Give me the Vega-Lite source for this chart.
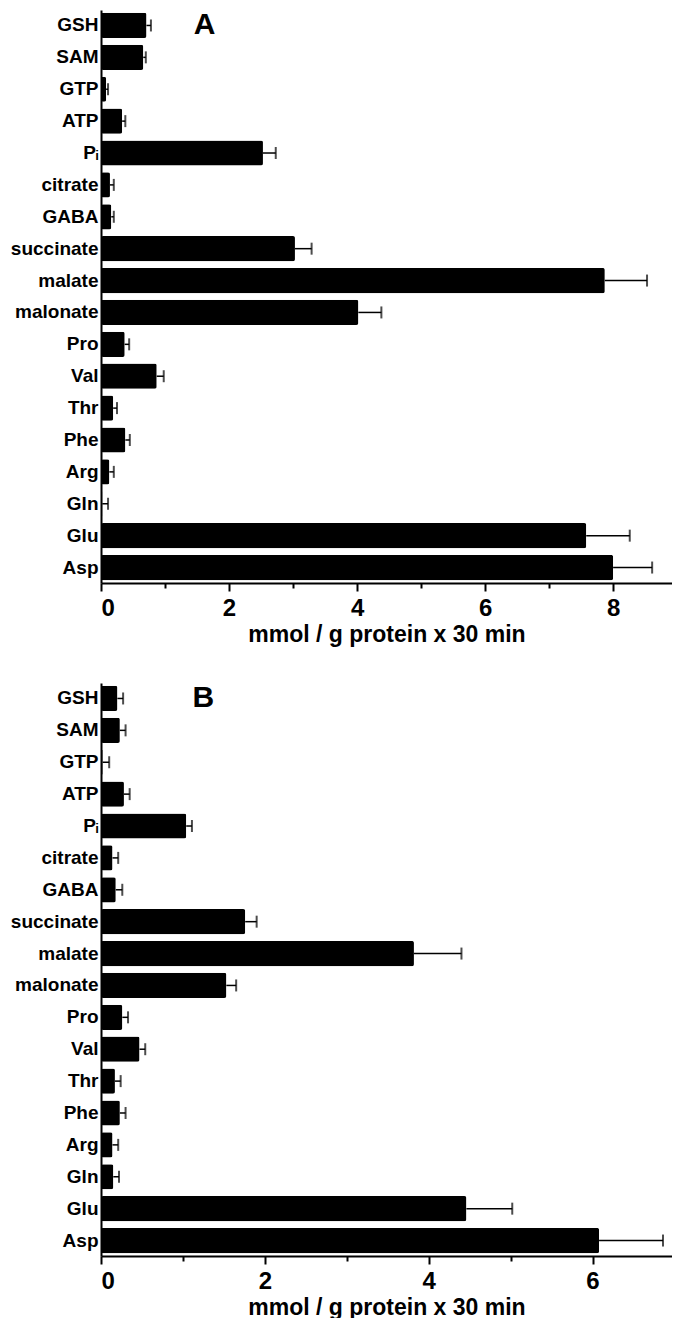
{
  "$schema": "https://vega.github.io/schema/vega-lite/v6.json",
  "background": "white",
  "padding": {"left": 10, "top": 10, "right": 0, "bottom": 0},
  "spacing": 37,
  "config": {
    "view": {"stroke": null},
    "font": "Liberation Sans",
    "axis": {"domainColor": "black", "tickColor": "black", "labelColor": "black", "titleColor": "black", "grid": false}
  },
  "data": {"values": [
    {"panel": "A", "name": "GSH", "value": 0.71, "upper": 0.78},
    {"panel": "A", "name": "SAM", "value": 0.66, "upper": 0.70},
    {"panel": "A", "name": "GTP", "value": 0.08, "upper": 0.11},
    {"panel": "A", "name": "ATP", "value": 0.33, "upper": 0.38},
    {"panel": "A", "name": "Pᵢ", "value": 2.53, "upper": 2.73},
    {"panel": "A", "name": "citrate", "value": 0.14, "upper": 0.20},
    {"panel": "A", "name": "GABA", "value": 0.16, "upper": 0.20},
    {"panel": "A", "name": "succinate", "value": 3.03, "upper": 3.29},
    {"panel": "A", "name": "malate", "value": 7.87, "upper": 8.53},
    {"panel": "A", "name": "malonate", "value": 4.02, "upper": 4.38},
    {"panel": "A", "name": "Pro", "value": 0.37, "upper": 0.44},
    {"panel": "A", "name": "Val", "value": 0.87, "upper": 0.98},
    {"panel": "A", "name": "Thr", "value": 0.19, "upper": 0.25},
    {"panel": "A", "name": "Phe", "value": 0.38, "upper": 0.45},
    {"panel": "A", "name": "Arg", "value": 0.13, "upper": 0.20},
    {"panel": "A", "name": "Gln", "value": 0.02, "upper": 0.11},
    {"panel": "A", "name": "Glu", "value": 7.58, "upper": 8.26},
    {"panel": "A", "name": "Asp", "value": 8.0, "upper": 8.61},
    {"panel": "B", "name": "GSH", "value": 0.20, "upper": 0.27},
    {"panel": "B", "name": "SAM", "value": 0.23, "upper": 0.30},
    {"panel": "B", "name": "GTP", "value": 0.02, "upper": 0.10},
    {"panel": "B", "name": "ATP", "value": 0.28, "upper": 0.35},
    {"panel": "B", "name": "Pᵢ", "value": 1.04, "upper": 1.11},
    {"panel": "B", "name": "citrate", "value": 0.14, "upper": 0.21},
    {"panel": "B", "name": "GABA", "value": 0.18, "upper": 0.26},
    {"panel": "B", "name": "succinate", "value": 1.76, "upper": 1.90},
    {"panel": "B", "name": "malate", "value": 3.82, "upper": 4.40},
    {"panel": "B", "name": "malonate", "value": 1.53, "upper": 1.65},
    {"panel": "B", "name": "Pro", "value": 0.26, "upper": 0.33},
    {"panel": "B", "name": "Val", "value": 0.47, "upper": 0.54},
    {"panel": "B", "name": "Thr", "value": 0.17, "upper": 0.24},
    {"panel": "B", "name": "Phe", "value": 0.23, "upper": 0.30},
    {"panel": "B", "name": "Arg", "value": 0.14, "upper": 0.21},
    {"panel": "B", "name": "Gln", "value": 0.15, "upper": 0.22},
    {"panel": "B", "name": "Glu", "value": 4.46, "upper": 5.02},
    {"panel": "B", "name": "Asp", "value": 6.08, "upper": 6.86}
  ]},
  "vconcat": [
    {
      "width": 571,
      "height": 573,
      "transform": [{"filter": "datum.panel === 'A'"}],
      "encoding": {
        "y": {
          "field": "name", "type": "nominal", "sort": null,
          "scale": {"paddingInner": 0.21, "paddingOuter": 0.09},
          "axis": {"title": null, "ticks": false, "domainWidth": 2, "labelFontSize": 19, "labelFontWeight": "bold", "labelPadding": 3}
        }
      },
      "layer": [
        {
          "mark": {"type": "bar", "color": "black", "cornerRadius": 2},
          "encoding": {
            "x": {
              "field": "value", "type": "quantitative",
              "scale": {"domain": [0, 8.92], "nice": false, "zero": true},
              "axis": {
                "title": "mmol / g protein x 30 min",
                "values": [0, 1, 2, 3, 4, 5, 6, 7, 8],
                "format": "d",
                "labelExpr": "datum.value % 2 ? '' : datum.label",
                "tickSize": {"condition": {"test": "datum.value % 2 === 1", "value": 5}, "value": 8},
                "tickWidth": 2, "domainWidth": 2,
                "labelFontSize": 24, "labelFontWeight": "bold", "labelPadding": 5,
                "titleFontSize": 23, "titleFontWeight": "bold", "titlePadding": 3
              }
            }
          }
        },
        {
          "mark": {"type": "rule", "color": "black", "strokeWidth": 1.5},
          "encoding": {"x": {"field": "value", "type": "quantitative"}, "x2": {"field": "upper"}}
        },
        {
          "mark": {"type": "tick", "color": "black", "thickness": 2, "size": 12},
          "encoding": {"x": {"field": "upper", "type": "quantitative"}}
        },
        {
          "data": {"values": [{"label": "A"}]},
          "mark": {"type": "text", "fontSize": 30, "fontWeight": "bold", "color": "black", "align": "center", "baseline": "middle"},
          "encoding": {"x": {"datum": 1.62}, "y": {"datum": "GSH"}, "text": {"field": "label"}}
        }
      ]
    },
    {
      "width": 571,
      "height": 573,
      "transform": [{"filter": "datum.panel === 'B'"}],
      "encoding": {
        "y": {
          "field": "name", "type": "nominal", "sort": null,
          "scale": {"paddingInner": 0.21, "paddingOuter": 0.09},
          "axis": {"title": null, "ticks": false, "domainWidth": 2, "labelFontSize": 19, "labelFontWeight": "bold", "labelPadding": 3}
        }
      },
      "layer": [
        {
          "mark": {"type": "bar", "color": "black", "cornerRadius": 2},
          "encoding": {
            "x": {
              "field": "value", "type": "quantitative",
              "scale": {"domain": [0, 6.97], "nice": false, "zero": true},
              "axis": {
                "title": "mmol / g protein x 30 min",
                "values": [0, 1, 2, 3, 4, 5, 6],
                "format": "d",
                "labelExpr": "datum.value % 2 ? '' : datum.label",
                "tickSize": {"condition": {"test": "datum.value % 2 === 1", "value": 5}, "value": 8},
                "tickWidth": 2, "domainWidth": 2,
                "labelFontSize": 24, "labelFontWeight": "bold", "labelPadding": 5,
                "titleFontSize": 23, "titleFontWeight": "bold", "titlePadding": 3
              }
            }
          }
        },
        {
          "mark": {"type": "rule", "color": "black", "strokeWidth": 1.5},
          "encoding": {"x": {"field": "value", "type": "quantitative"}, "x2": {"field": "upper"}}
        },
        {
          "mark": {"type": "tick", "color": "black", "thickness": 2, "size": 12},
          "encoding": {"x": {"field": "upper", "type": "quantitative"}}
        },
        {
          "data": {"values": [{"label": "B"}]},
          "mark": {"type": "text", "fontSize": 30, "fontWeight": "bold", "color": "black", "align": "center", "baseline": "middle"},
          "encoding": {"x": {"datum": 1.25}, "y": {"datum": "GSH"}, "text": {"field": "label"}}
        }
      ]
    }
  ]
}
